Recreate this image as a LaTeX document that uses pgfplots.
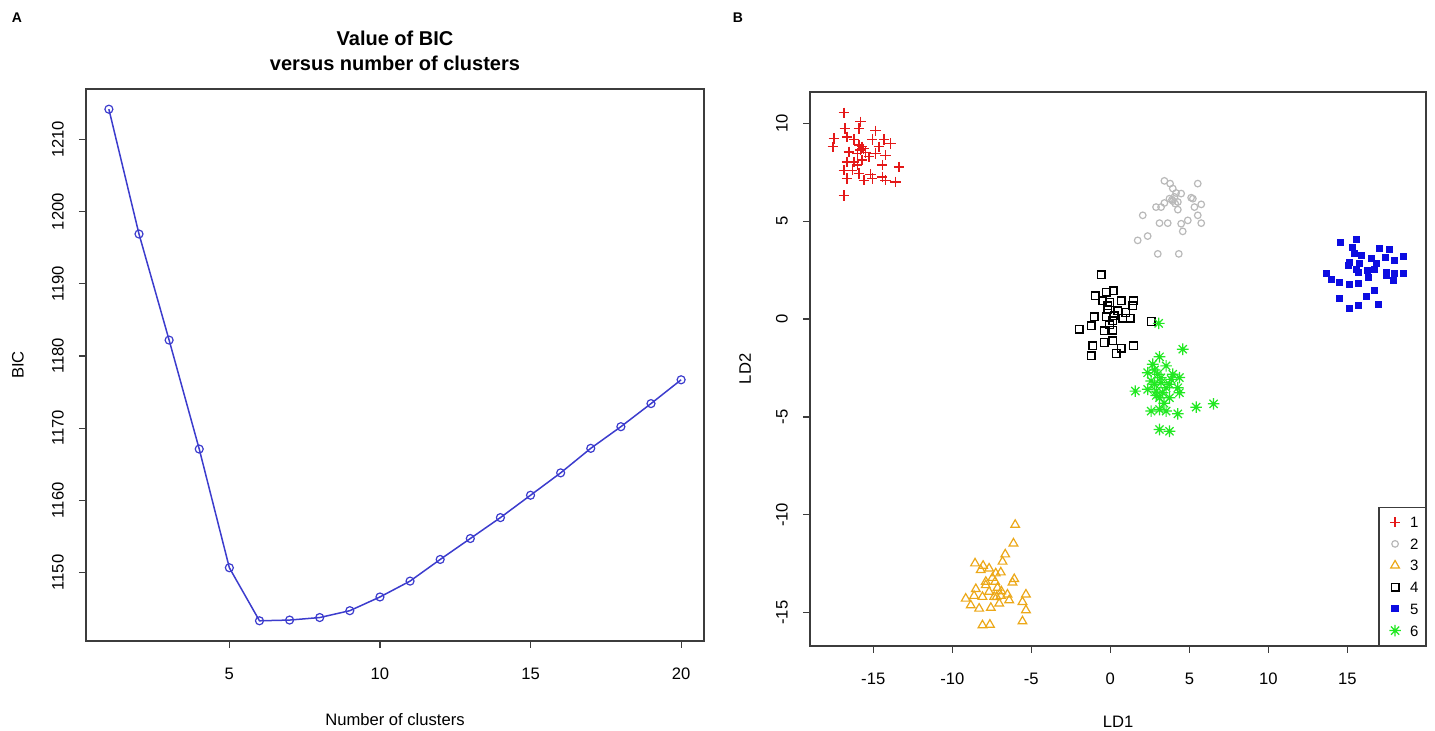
\documentclass[border=0pt]{standalone}
\usepackage{pgfplots}
\pgfplotsset{compat=1.18}
\usepackage{fontspec}
\setmainfont{Liberation Sans}
\definecolor{cLine}{RGB}{60,60,205}
\definecolor{cRed}{RGB}{228,24,24}
\definecolor{cGrey}{RGB}{185,185,185}
\definecolor{cOrange}{RGB}{236,168,24}
\definecolor{cBlue}{RGB}{12,12,225}
\definecolor{cGreen}{RGB}{34,232,34}
\definecolor{cAxis}{RGB}{60,60,60}
\pgfdeclareplotmark{ast8}{%
  \pgfpathmoveto{\pgfqpoint{-\pgfplotmarksize}{0pt}}\pgfpathlineto{\pgfqpoint{\pgfplotmarksize}{0pt}}%
  \pgfpathmoveto{\pgfqpoint{0pt}{-\pgfplotmarksize}}\pgfpathlineto{\pgfqpoint{0pt}{\pgfplotmarksize}}%
  \pgfpathmoveto{\pgfpointpolar{45}{\pgfplotmarksize}}\pgfpathlineto{\pgfpointpolar{225}{\pgfplotmarksize}}%
  \pgfpathmoveto{\pgfpointpolar{135}{\pgfplotmarksize}}\pgfpathlineto{\pgfpointpolar{315}{\pgfplotmarksize}}%
  \pgfusepathqstroke}
\pgfplotsset{
  lgimg/.style={legend image code/.code={\path[draw=none,fill=none] (0pt,-1pt) rectangle (9pt,1pt); \draw[##1] plot coordinates {(4.5pt,0pt)};}},
  rstyle/.style={
    scale only axis,
    tick pos=left, tick align=outside, major tick length=3.5pt,
    axis line style={draw=cAxis, line width=0.7pt},
    tick style={draw=cAxis, line width=0.6pt},
    tick label style={font=\fontsize{8.3}{10}\selectfont},
    label style={font=\fontsize{8.3}{10}\selectfont},
    xticklabel style={anchor=center},
    yticklabel style={rotate=90, anchor=center},
    xticklabel shift=13pt,
    yticklabel shift=10.5pt,
  }
}
\begin{document}
\begin{tikzpicture}[x=1pt,y=1pt]
\useasboundingbox (0,0) rectangle (717.5,365.5);
\node[font=\bfseries\fontsize{7}{8}\selectfont] at (8.5,356.5) {A};
\node[font=\bfseries\fontsize{7}{8}\selectfont] at (369,356.5) {B};

\begin{axis}[rstyle,
  at={(43pt,45pt)}, anchor=south west,
  width=309pt, height=276pt,
  xmin=0.24, xmax=20.76, ymin=1140.5, ymax=1217.0,
  xtick={5,10,15,20}, xticklabels={5,10,15,20},
  ytick={1150,1160,1170,1180,1190,1200,1210},
  yticklabels={1150,1160,1170,1180,1190,1200,1210},
  title={Value of BIC\\versus number of clusters},
  title style={font=\bfseries\fontsize{10}{12.5}\selectfont, align=center, at={(axis description cs:0.5,1.048)}, anchor=center},
  xlabel={Number of clusters},
  xlabel style={at={(axis description cs:0.5,-0.1431)}, anchor=center},
  ylabel={BIC},
  ylabel style={at={(axis description cs:-0.110,0.5)}, anchor=center},
]
\addplot[color=cLine, line width=0.75pt, mark=o, mark size=2pt, mark options={line width=0.6pt}] coordinates {
(1,1214.2) (2,1196.9) (3,1182.2) (4,1167.1) (5,1150.65) (6,1143.3) (7,1143.4) (8,1143.75) (9,1144.7) (10,1146.6)
(11,1148.8) (12,1151.8) (13,1154.7) (14,1157.6) (15,1160.7) (16,1163.8) (17,1167.2) (18,1170.2) (19,1173.4) (20,1176.7)};
\end{axis}

\begin{axis}[rstyle,
  at={(405pt,42.5pt)}, anchor=south west,
  width=308pt, height=277pt,
  xmin=-19.0, xmax=19.97, ymin=-16.7, ymax=11.6,
  xtick={-15,-10,-5,0,5,10,15}, xticklabels={-15,-10,-5,0,5,10,15},
  ytick={-15,-10,-5,0,5,10}, yticklabels={-15,-10,-5,0,5,10},
  xlabel={LD1},
  xlabel style={at={(axis description cs:0.5,-0.1372)}, anchor=center},
  ylabel={LD2},
  ylabel style={at={(axis description cs:-0.1055,0.5)}, anchor=center},
  legend style={at={(axis description cs:1,0)}, anchor=south east, draw=cAxis, line width=0.6pt,
    font=\fontsize{7.5}{8}\selectfont, nodes={inner sep=0pt, text height=5.5pt, text depth=0pt},
    row sep=5.3pt, column sep=3pt, inner xsep=3.5pt, inner ysep=4.5pt, cells={anchor=west}},
]
\addplot[only marks, lgimg, mark=+, mark size=2.6pt, color=cRed, mark options={line width=0.7pt}] coordinates {
(-16.86,10.54) (-15.80,10.08) (-16.79,9.74) (-15.91,9.74) (-14.85,9.62) (-17.49,9.23) (-16.65,9.31) (-16.22,9.18)
(-15.06,9.18) (-14.32,9.18) (-13.90,8.97) (-17.55,8.80) (-15.70,8.80) (-15.80,8.63) (-14.64,8.80) (-16.54,8.54)
(-16.01,8.46) (-14.22,8.37) (-16.65,8.03) (-16.22,8.03) (-15.70,8.12) (-14.43,7.86) (-13.37,7.77) (-16.86,7.60)
(-16.33,7.60) (-15.91,7.44) (-15.17,7.40) (-14.43,7.26) (-16.65,7.18) (-15.59,7.09) (-15.06,7.18) (-14.22,7.09)
(-13.58,7.01) (-16.86,6.32) (-16.01,7.86) (-15.27,8.29) (-14.85,8.46) (-15.6,8.7) (-15.9,8.9) (-15.5,8.5)};
\addplot[only marks, lgimg, mark=o, mark size=1.65pt, color=cGrey, mark options={line width=0.6pt}] coordinates {
(3.42,7.06) (3.78,6.92) (5.53,6.92) (3.95,6.67) (4.48,6.41) (4.16,6.44) (5.11,6.20) (3.74,6.15) (3.95,6.03) (4.27,5.98)
(2.89,5.72) (3.21,5.72) (3.42,5.93) (5.32,5.72) (5.75,5.86) (4.27,5.59) (2.05,5.30) (5.53,5.30) (3.11,4.90) (3.63,4.90)
(4.90,5.04) (4.48,4.87) (5.75,4.90) (4.58,4.48) (1.73,4.02) (2.36,4.24) (3.00,3.33) (4.33,3.33) (4.06,6.24) (5.22,6.15)
(4.1,5.9) (3.9,6.1)};
\addplot[only marks, lgimg, mark=triangle, mark size=2.5pt, color=cOrange, mark options={line width=0.6pt}] coordinates {
(-6.02,-10.51) (-6.13,-11.46) (-6.65,-12.02) (-6.82,-12.39) (-8.56,-12.48) (-8.05,-12.60) (-8.20,-12.82) (-7.67,-12.74)
(-7.25,-12.99) (-6.93,-12.94) (-7.46,-13.22) (-6.08,-13.28) (-6.19,-13.46) (-7.88,-13.59) (-8.51,-13.79) (-7.14,-13.73)
(-7.67,-13.93) (-8.62,-14.14) (-9.15,-14.28) (-8.09,-14.19) (-7.35,-14.19) (-6.93,-14.14) (-6.51,-14.07) (-5.34,-14.07)
(-6.40,-14.36) (-5.56,-14.45) (-8.83,-14.62) (-8.30,-14.79) (-7.56,-14.75) (-7.03,-14.53) (-5.34,-14.87) (-5.56,-15.44)
(-8.09,-15.64) (-7.62,-15.61) (-7.88,-13.42) (-7.29,-13.42) (-7.2,-14.2) (-6.9,-13.9)};
\addplot[only marks, lgimg, mark=square, mark size=1.9pt, color=black, mark options={line width=0.7pt}] coordinates {
(-0.59,2.27) (-0.95,1.19) (-0.27,1.37) (0.19,1.45) (-0.49,0.94) (-0.06,0.85) (0.68,0.94) (1.46,0.94) (1.41,0.68) (-0.17,0.51)
(0.46,0.43) (0.99,0.34) (-1.01,0.12) (-0.27,0.12) (0.25,0.17) (0.78,0.05) (1.25,0.05) (-1.22,-0.34) (-0.06,-0.29) (-1.96,-0.51)
(-0.38,-0.60) (0.15,-0.56) (2.58,-0.12) (-1.12,-1.37) (-0.38,-1.20) (0.15,-1.11) (0.68,-1.49) (1.46,-1.37) (-1.22,-1.88) (0.36,-1.76)
(-0.17,0.68) (0.15,-0.09)};
\addplot[only marks, lgimg, mark=square*, mark size=1.5pt, color=cBlue] coordinates {
(14.55,3.93) (15.57,4.05) (15.31,3.64) (17.00,3.59) (17.68,3.54) (18.53,3.19) (15.46,3.33) (15.89,3.25) (15.15,2.90)
(15.78,2.82) (16.52,3.08) (17.43,3.16) (18.00,2.99) (16.84,2.82) (15.04,2.73) (15.57,2.56) (16.24,2.51) (13.67,2.34)
(16.73,2.56) (17.47,2.39) (18.00,2.31) (18.53,2.34) (13.99,2.05) (14.47,1.88) (15.15,1.79) (15.67,1.83) (16.31,2.13)
(17.89,2.00) (14.51,1.08) (15.15,0.56) (15.67,0.68) (16.20,1.14) (16.73,1.45) (16.94,0.77) (15.67,2.39) (17.47,2.22)};
\addplot[only marks, lgimg, mark=ast8, mark size=2.9pt, color=cGreen, mark options={line width=0.6pt}] coordinates {
(3.06,-0.22) (4.58,-1.54) (3.11,-1.93) (2.68,-2.31) (3.53,-2.39) (2.36,-2.74) (3.00,-2.82) (3.95,-2.82) (4.37,-2.99)
(2.58,-3.16) (3.21,-3.25) (3.74,-3.33) (4.27,-3.51) (1.58,-3.68) (2.36,-3.59) (2.90,-3.68) (3.31,-3.76) (4.37,-3.76)
(3.11,-4.02) (3.74,-4.02) (2.58,-4.70) (3.11,-4.62) (3.53,-4.70) (4.27,-4.84) (5.43,-4.50) (6.53,-4.33) (3.11,-5.64)
(3.74,-5.73) (2.79,-3.33) (3.53,-3.51) (3.85,-3.08) (3.2,-3.0) (2.9,-3.9) (3.4,-4.3) (2.8,-2.6)};
\legend{1,2,3,4,5,6}
\end{axis}
\end{tikzpicture}
\end{document}
